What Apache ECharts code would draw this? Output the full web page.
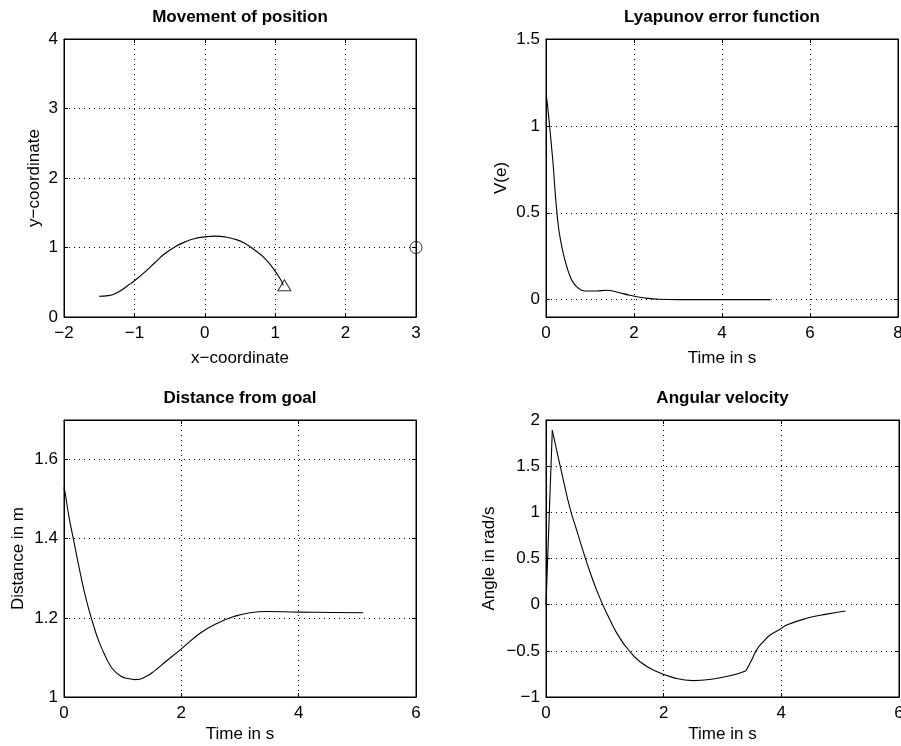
<!DOCTYPE html>
<html>
<head>
<meta charset="utf-8">
<script src="https://cdn.jsdelivr.net/npm/echarts@6/dist/echarts.min.js"></script>
<style>html,body{margin:0;padding:0;background:#fff;}#c{width:901px;height:746px;}</style>
</head>
<body>
<div id="c"></div>
<script>
// ---- Data ----
const posX = [-1.503, -1.37, -1.229, -1.087, -0.99, -0.849, -0.707, -0.565, -0.423, -0.281, -0.139, 0.003, 0.145, 0.287, 0.429, 0.571, 0.713, 0.855, 0.973, 1.068, 1.115];
const posY = [0.298, 0.308, 0.36, 0.457, 0.529, 0.648, 0.784, 0.913, 1.009, 1.081, 1.13, 1.153, 1.163, 1.153, 1.12, 1.058, 0.961, 0.841, 0.697, 0.553, 0.457];
const endPos = [1.13, 0.457];
const goalPos = [3, 1];

const lyapT = [0, 0.016, 0.053, 0.091, 0.129, 0.166, 0.204, 0.243, 0.279, 0.318, 0.393, 0.47, 0.545, 0.62, 0.733, 0.886, 1.15, 1.38, 1.6, 1.91, 2.21, 2.59, 3.0, 4.0, 5.1];
const lyapV = [1.17, 1.159, 1.073, 0.976, 0.871, 0.765, 0.63, 0.515, 0.428, 0.361, 0.265, 0.192, 0.136, 0.098, 0.067, 0.05, 0.05, 0.054, 0.044, 0.025, 0.011, 0.002, 0, 0, 0];

const distT = [0, 0.017, 0.085, 0.17, 0.255, 0.34, 0.426, 0.511, 0.596, 0.709, 0.823, 0.964, 1.107, 1.219, 1.39, 1.56, 1.73, 1.98, 2.32, 2.606, 2.888, 3.17, 3.457, 3.995, 4.59, 5.1];
const distV = [1.53, 1.518, 1.455, 1.392, 1.329, 1.27, 1.22, 1.177, 1.14, 1.102, 1.072, 1.053, 1.046, 1.044, 1.051, 1.068, 1.089, 1.119, 1.161, 1.186, 1.203, 1.213, 1.216, 1.2145, 1.2137, 1.213];

const angT = [0, 0.107, 0.181, 0.295, 0.408, 0.521, 0.635, 0.776, 0.918, 1.088, 1.258, 1.428, 1.598, 1.824, 2.164, 2.5, 2.84, 3.18, 3.4, 3.496, 3.58, 3.694, 3.81, 3.978, 4.09, 4.43, 4.77, 5.09];
const angV = [0, 1.889, 1.673, 1.348, 1.042, 0.807, 0.572, 0.302, 0.068, -0.167, -0.365, -0.51, -0.618, -0.708, -0.79, -0.823, -0.805, -0.762, -0.715, -0.6, -0.49, -0.401, -0.329, -0.267, -0.221, -0.148, -0.102, -0.069];
const angBreaks = [1, 18]; // indices of the sharp corners

const titles = ['Movement of position', 'Lyapunov error function', 'Distance from goal', 'Angular velocity'];
const xNames = ['x\u2212coordinate', 'Time in s', 'Time in s', 'Time in s'];
const yNames = ['y\u2212coordinate', 'V(e)', 'Distance in m', 'Angle in rad/s'];
const xTicks = [[-2, -1, 0, 1, 2, 3], [0, 2, 4, 6, 8], [0, 2, 4, 6], [0, 2, 4, 6]];
const yTicks = [[0, 1, 2, 3, 4], [0, 0.5, 1, 1.5], [1, 1.2, 1.4, 1.6], [-1, -0.5, 0, 0.5, 1, 1.5, 2]];
const xLimits = [[-2, 3], [0, 8], [0, 6], [0, 6]];
const yLimits = [[0, 4], [-0.1, 1.5], [1, 1.7], [-1, 2]];

// ---- Layout ----
const FONT = '"Liberation Sans", Arial, Helvetica, sans-serif';
const grids = [
  {left: 64, top: 39, width: 352, height: 278},
  {left: 546, top: 39, width: 352, height: 278},
  {left: 64, top: 420, width: 352, height: 277},
  {left: 546, top: 420, width: 353, height: 277}
];
const xNameGap = [33, 33, 29, 29];
const yNameGap = [21, 36, 37, 48];
const titleTop = [9, 9, 390, 390];

const fmt = v => String(Math.round(v * 1000) / 1000).replace('-', '\u2212');
const grid = grids.map(g => Object.assign({show: true, borderColor: '#000', borderWidth: 1, backgroundColor: '#fff', outerBoundsMode: 'none', containLabel: false}, g));
const gridLine = {show: true, lineStyle: {type: [1, 4], color: '#000', width: 1}};

const xAxis = [], yAxis = [];
grids.forEach((g, i) => {
  const common = {
    type: 'value', gridIndex: i,
    axisLine: {show: true, onZero: false, lineStyle: {color: '#000', width: 1}}
  };
  const tick = vals => ({show: true, inside: true, length: 4, lineStyle: {color: '#000'}, customValues: vals});
  xAxis.push(Object.assign({}, common, {
    min: xLimits[i][0], max: xLimits[i][1], position: 'bottom',
    name: xNames[i], nameLocation: 'middle', nameGap: xNameGap[i],
    nameTextStyle: {fontSize: 17, color: '#000', fontFamily: FONT},
    axisTick: tick(xTicks[i]),
    axisLabel: {fontSize: 17, color: '#000', margin: 8, fontFamily: FONT, formatter: fmt, customValues: xTicks[i]},
    splitLine: gridLine
  }));
  xAxis.push(Object.assign({}, common, {
    min: xLimits[i][0], max: xLimits[i][1], position: 'top',
    axisTick: tick(xTicks[i]), axisLabel: {show: false}, splitLine: {show: false}
  }));
  yAxis.push(Object.assign({}, common, {
    min: yLimits[i][0], max: yLimits[i][1], position: 'left',
    name: yNames[i], nameLocation: 'middle', nameGap: yNameGap[i],
    nameTextStyle: {fontSize: 17, color: '#000', fontFamily: FONT},
    axisTick: tick(yTicks[i]),
    axisLabel: {fontSize: 17, color: '#000', margin: 6, fontFamily: FONT, formatter: fmt, customValues: yTicks[i]},
    splitLine: gridLine
  }));
  yAxis.push(Object.assign({}, common, {
    min: yLimits[i][0], max: yLimits[i][1], position: 'right',
    axisTick: tick(yTicks[i]), axisLabel: {show: false}, splitLine: {show: false}
  }));
});

const lineStyle = {color: '#000', width: 1.1};
const mkLine = (i, data, smooth) => ({
  type: 'line', xAxisIndex: 2 * i, yAxisIndex: 2 * i, data: data, smooth: smooth,
  showSymbol: false, symbol: 'none', lineStyle: lineStyle, silent: true
});
const pairs = (xs, ys) => xs.map((x, k) => [x, ys[k]]);

const angPairs = pairs(angT, angV);
const series = [
  mkLine(0, pairs(posX, posY), true),
  {type: 'scatter', xAxisIndex: 0, yAxisIndex: 0, data: [endPos], symbol: 'triangle', symbolSize: [13, 11],
   itemStyle: {color: 'rgba(0,0,0,0)', borderColor: '#000', borderWidth: 1}, clip: false, silent: true},
  {type: 'scatter', xAxisIndex: 0, yAxisIndex: 0, data: [goalPos], symbol: 'circle', symbolSize: 12,
   itemStyle: {color: 'rgba(0,0,0,0)', borderColor: '#000', borderWidth: 1}, clip: false, silent: true},
  mkLine(1, pairs(lyapT, lyapV), true),
  mkLine(2, pairs(distT, distV), true),
  mkLine(3, angPairs.slice(0, angBreaks[0] + 1), false),
  mkLine(3, angPairs.slice(angBreaks[0], angBreaks[1] + 1), true),
  mkLine(3, angPairs.slice(angBreaks[1]), true)
];

const title = titles.map((t, i) => ({
  text: t, left: grids[i].left + grids[i].width / 2, top: titleTop[i], textAlign: 'center', padding: 0,
  textStyle: {fontSize: 17, fontWeight: 'bold', color: '#000', fontFamily: FONT}
}));

const chart = echarts.init(document.getElementById('c'), null, {renderer: 'canvas'});
chart.setOption({
  animation: false,
  backgroundColor: '#fff',
  textStyle: {fontFamily: FONT},
  title: title,
  grid: grid,
  xAxis: xAxis,
  yAxis: yAxis,
  series: series
});
</script>
</body>
</html>
